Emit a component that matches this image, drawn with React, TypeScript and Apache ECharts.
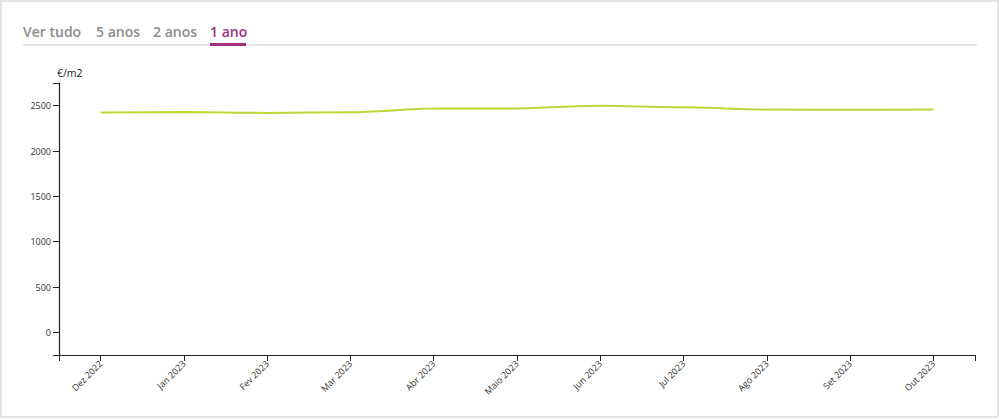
import React, { useEffect, useRef } from "react";
import * as echarts from "echarts";

const months = ["Dez 2022", "Jan 2023", "Fev 2023", "Mar 2023", "Abr 2023", "Maio 2023", "Jun 2023", "Jul 2023", "Ago 2023", "Set 2023", "Out 2023"];
const pricePerM2 = [2425, 2430, 2420, 2428, 2468, 2470, 2500, 2482, 2458, 2454, 2458];
const yTickLabels = [0, 500, 1000, 1500, 2000, 2500];
const tabs = ["Ver tudo", "5 anos", "2 anos", "1 ano"];
const tabX = [23, 96, 153, 210];
const unitLabel = "€/m2";

export default function App() {
  const ref = useRef<HTMLDivElement>(null);
  useEffect(() => {
    if (!ref.current) return;
    const chart = echarts.init(ref.current, null, { renderer: "svg" });
    const font = "'Open Sans', 'Noto Sans', sans-serif";
    const idx = months.map((_, i) => i);
    chart.setOption({
      animation: false,
      backgroundColor: "#ffffff",
      textStyle: { fontFamily: font },
      grid: { left: 59, right: 25, top: 83, bottom: 64, containLabel: false },
      xAxis: {
        type: "value",
        min: -0.5,
        max: 10.5,
        axisLine: { show: true, onZero: false, lineStyle: { color: "#222", width: 1.2 } },
        axisTick: { show: true, length: 6, lineStyle: { color: "#222" }, customValues: [-0.5, ...idx, 10.5] },
        axisLabel: {
          customValues: idx,
          rotate: 45,
          fontSize: 9,
          color: "#333",
          margin: 7,
          fontFamily: font,
          formatter: (v: number) => months[Math.round(v)] ?? "",
        },
        splitLine: { show: false },
      },
      yAxis: {
        type: "value",
        min: -250,
        max: 2750,
        axisLine: { show: true, onZero: false, lineStyle: { color: "#222", width: 1.2 } },
        axisTick: { show: true, length: 6, lineStyle: { color: "#222" }, customValues: [-250, ...yTickLabels, 2750] },
        axisLabel: {
          customValues: yTickLabels,
          fontSize: 9,
          color: "#333",
          margin: 8,
          fontFamily: font,
          formatter: (v: number) => String(v),
        },
        splitLine: { show: false },
      },
      series: [
        {
          type: "line",
          data: pricePerM2.map((v, i) => [i, v]),
          showSymbol: false,
          smooth: 0.3,
          smoothMonotone: "x",
          lineStyle: { color: "#bcd836", width: 2 },
        },
      ],
      graphic: [
        {
          type: "rect",
          shape: { x: 1, y: 1, width: 997, height: 416 },
          style: { fill: "none", stroke: "#e4e4e0", lineWidth: 2 },
          silent: true,
        },
        {
          type: "rect",
          shape: { x: 23, y: 44, width: 954, height: 2 },
          style: { fill: "#e6e6e6" },
        },
        {
          type: "rect",
          shape: { x: 210, y: 43, width: 36, height: 3 },
          style: { fill: "#a02f80" },
        },
        ...tabs.map((t, i) => ({
          type: "text",
          x: tabX[i],
          y: 31,
          style: {
            text: t,
            fontSize: 14,
            fontWeight: 600,
            fontFamily: font,
            fill: i === 3 ? "#a02f80" : "#8c8c8c",
            verticalAlign: "middle",
          },
        })),
        {
          type: "text",
          x: 57,
          y: 73,
          style: { text: unitLabel, fontSize: 10.5, fill: "#222", fontFamily: font, verticalAlign: "middle" },
        },
      ],
    });
    return () => chart.dispose();
  }, []);
  return <div ref={ref} style={{ position: "absolute", left: 0, top: 0, width: 1000, height: 419 }} />;
}
